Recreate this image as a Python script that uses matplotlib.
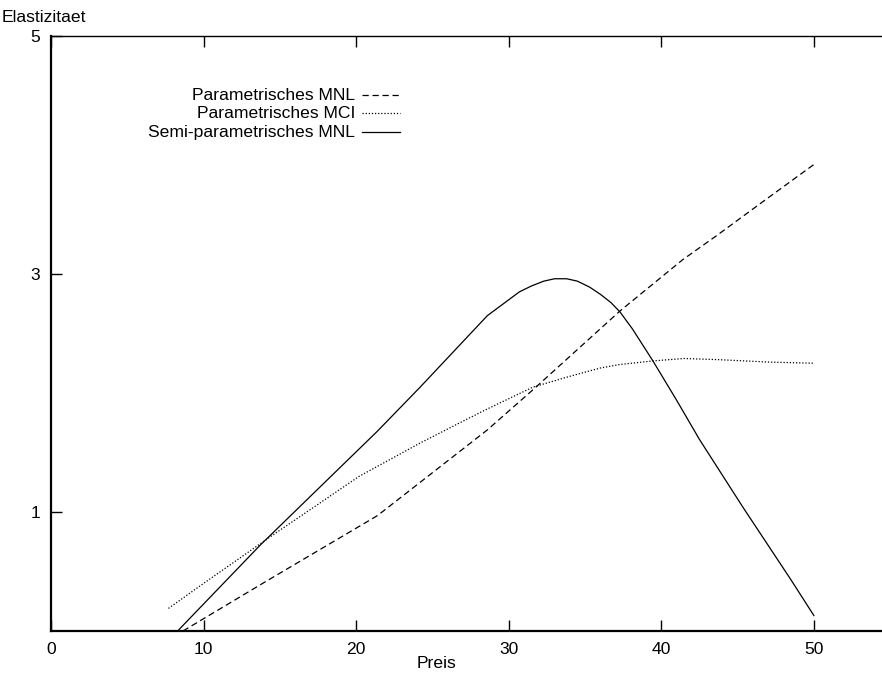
import matplotlib
matplotlib.use("Agg")
import matplotlib.pyplot as plt
from matplotlib.lines import Line2D

plt.rcParams['font.family'] = ['Liberation Sans', 'DejaVu Sans']

# Parametrisches MNL (dashed)
mnl_x = [8.65, 14.0, 21.4, 24.2, 28.6, 31.7, 37.3, 41.4, 43.6, 47.0, 50.0]
mnl_y = [0.0, 0.41, 0.97, 1.25, 1.69, 2.04, 2.69, 3.12, 3.32, 3.64, 3.92]

# Parametrisches MCI (dotted)
mci_x = [7.7, 10.0, 14.35, 20.2, 24.2, 26.8, 28.5, 31.6, 34.0, 36.0, 37.3, 39.5, 41.5, 43.8, 47.0, 50.0]
mci_y = [0.19, 0.40, 0.79, 1.30, 1.58, 1.75, 1.86, 2.05, 2.14, 2.21, 2.24, 2.27, 2.29, 2.28, 2.26, 2.25]

# Semi-parametrisches MNL (solid)
semi_x = [8.3, 13.7, 21.4, 24.2, 28.6, 30.7, 31.5, 32.3, 33.0, 33.8, 34.5, 35.3, 36.0,
          36.7, 37.3, 38.1, 38.8, 39.45, 41.0, 42.5, 44.0, 45.35, 46.9, 48.5, 50.0]
semi_y = [0.0, 0.72, 1.68, 2.05, 2.65, 2.85, 2.90, 2.94, 2.96, 2.96, 2.94, 2.89, 2.83,
          2.76, 2.68, 2.54, 2.40, 2.27, 1.94, 1.61, 1.31, 1.04, 0.74, 0.43, 0.13]

labels = ["Parametrisches MNL", "Parametrisches MCI", "Semi-parametrisches MNL"]
styles = [(0, (5, 3)), (0, (1, 1.5)), '-']

W, H = 882, 679
fig = plt.figure(figsize=(W / 100, H / 100), dpi=100)
ax = fig.add_axes([51 / W, 48 / H, 830 / W, 595 / H])

lw = 0.9
ax.plot(mnl_x, mnl_y, color='black', lw=lw, linestyle=styles[0])
ax.plot(mci_x, mci_y, color='black', lw=lw, linestyle=styles[1])
ax.plot(semi_x, semi_y, color='black', lw=lw, linestyle=styles[2])

ax.set_xlim(0, 54.4)
ax.set_ylim(0, 5)
ax.set_xticks([0, 10, 20, 30, 40, 50])
ax.set_yticks([1, 3, 5])
ax.tick_params(direction='in', length=8, width=1, labelsize=12.6,
               top=True, right=False, pad=8)
ax.spines['right'].set_visible(False)
ax.spines['left'].set_linewidth(1.6)
ax.spines['bottom'].set_linewidth(1.6)
ax.spines['top'].set_linewidth(1.0)

fig.text(2 / W, 1 - 17 / H, "Elastizitaet", fontsize=12.6, ha='left', va='center')
fig.text(436 / W, 1 - 663 / H, "Preis", fontsize=12.6, ha='center', va='center')

# legend, gnuplot style: text right-aligned, sample line to the right
rows = [95, 113, 132]
for lab, ls, yp in zip(labels, styles, rows):
    fig.text(355 / W, 1 - yp / H, lab, fontsize=12.6, ha='right', va='center')
    fig.add_artist(Line2D([362 / W, 400 / W], [1 - yp / H, 1 - yp / H],
                          transform=fig.transFigure, color='black', lw=lw, linestyle=ls))

fig.savefig("out.png", dpi=100, facecolor='white')
